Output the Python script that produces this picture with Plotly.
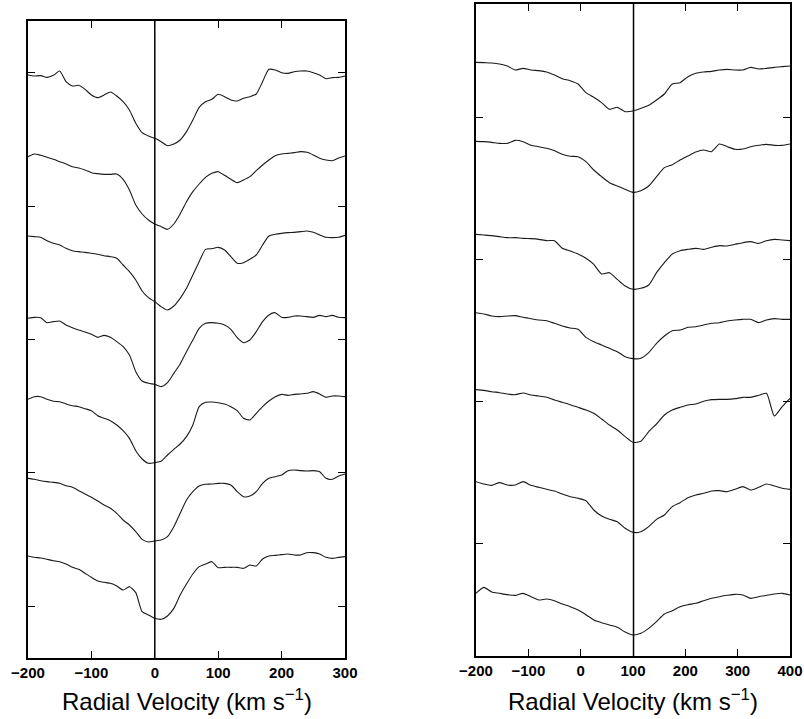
import numpy as np
import plotly.graph_objects as go

# ---------------- data ----------------
vel_left = list(range(-200, 301, 10))
vel_right = list(range(-200, 401, 15))

left_flux_1 = [1.000, 0.997, 0.998, 0.993, 0.999, 1.012, 0.980, 0.967, 0.969, 0.957,
               0.940, 0.932, 0.940, 0.949, 0.937, 0.920, 0.895, 0.855, 0.827, 0.817,
               0.810, 0.800, 0.788, 0.793, 0.805, 0.830, 0.865, 0.903, 0.920, 0.927,
               0.942, 0.935, 0.925, 0.922, 0.930, 0.935, 0.943, 0.980, 1.017, 1.015,
               1.007, 1.005, 1.010, 1.012, 1.012, 1.007, 1.000, 0.989, 0.992, 0.993,
               0.997]
left_flux_2 = [1.000, 1.008, 1.004, 0.998, 0.992, 0.985, 0.978, 0.970, 0.966, 0.960,
               0.952, 0.949, 0.947, 0.947, 0.948, 0.932, 0.900, 0.855, 0.828, 0.810,
               0.798, 0.790, 0.782, 0.798, 0.828, 0.865, 0.895, 0.918, 0.938, 0.950,
               0.955, 0.944, 0.932, 0.922, 0.930, 0.940, 0.958, 0.975, 0.990, 1.003,
               1.008, 1.010, 1.012, 1.015, 1.013, 1.005, 0.995, 0.990, 0.988, 0.996,
               1.002]
left_flux_3 = [1.000, 0.998, 0.996, 0.986, 0.978, 0.973, 0.963, 0.956, 0.953, 0.951,
               0.948, 0.945, 0.941, 0.938, 0.933, 0.913, 0.893, 0.868, 0.835, 0.815,
               0.803, 0.788, 0.778, 0.790, 0.813, 0.843, 0.883, 0.923, 0.960, 0.962,
               0.966, 0.958, 0.938, 0.918, 0.920, 0.930, 0.943, 0.973, 1.000, 1.005,
               1.008, 1.010, 1.011, 1.013, 1.015, 1.011, 1.003, 0.996, 0.995, 0.996,
               1.002]
left_flux_4 = [1.000, 1.003, 1.002, 0.987, 0.990, 0.992, 0.980, 0.972, 0.965, 0.959,
               0.952, 0.943, 0.949, 0.943, 0.930, 0.915, 0.890, 0.840, 0.812, 0.805,
               0.802, 0.795, 0.807, 0.835, 0.863, 0.900, 0.935, 0.970, 0.985, 0.987,
               0.985, 0.980, 0.967, 0.942, 0.927, 0.935, 0.960, 0.990, 1.010, 1.017,
               1.003, 1.003, 1.007, 1.007, 1.005, 1.003, 1.009, 1.005, 1.009, 1.003,
               1.002]
left_flux_5 = [1.000, 1.008, 1.008, 1.000, 0.994, 0.993, 0.986, 0.981, 0.978, 0.972,
               0.966, 0.951, 0.943, 0.936, 0.923, 0.906, 0.883, 0.846, 0.821, 0.808,
               0.810, 0.814, 0.833, 0.850, 0.866, 0.888, 0.923, 0.978, 0.991, 0.992,
               0.990, 0.986, 0.978, 0.966, 0.943, 0.938, 0.958, 0.978, 0.995, 1.008,
               1.015, 1.012, 1.015, 1.016, 1.018, 1.023, 1.016, 1.006, 1.010, 1.010,
               1.008]
left_flux_6 = [1.000, 0.997, 0.993, 0.990, 0.988, 0.985, 0.978, 0.973, 0.963, 0.953,
               0.943, 0.932, 0.920, 0.910, 0.895, 0.875, 0.860, 0.840, 0.817, 0.809,
               0.812, 0.815, 0.825, 0.855, 0.895, 0.935, 0.960, 0.977, 0.982, 0.983,
               0.985, 0.985, 0.980, 0.960, 0.945, 0.947, 0.960, 0.985, 1.000, 1.005,
               1.010, 1.023, 1.025, 1.023, 1.022, 1.023, 1.020, 1.000, 0.997, 1.007,
               1.013]
left_flux_7 = [1.000, 0.996, 0.994, 0.990, 0.986, 0.983, 0.976, 0.966, 0.960, 0.948,
               0.936, 0.925, 0.921, 0.918, 0.910, 0.898, 0.908, 0.890, 0.833, 0.823,
               0.813, 0.810, 0.820, 0.843, 0.883, 0.916, 0.946, 0.968, 0.976, 0.983,
               0.965, 0.966, 0.966, 0.966, 0.963, 0.973, 0.970, 0.991, 1.000, 1.002,
               1.004, 1.006, 1.003, 1.003, 1.010, 1.010, 1.006, 0.996, 0.993, 0.996,
               0.998]
left_offsets = [0.593, 0.348, 0.110, -0.137, -0.380, -0.617, -0.850]

right_flux_1 = [1.000, 0.999, 0.998, 0.995, 0.989, 0.977, 0.982, 0.977, 0.975, 0.971,
                0.962, 0.951, 0.945, 0.935, 0.909, 0.895, 0.879, 0.859, 0.865, 0.852,
                0.854, 0.862, 0.871, 0.887, 0.905, 0.935, 0.939, 0.957, 0.967, 0.971,
                0.973, 0.977, 0.979, 0.977, 0.977, 0.985, 0.980, 0.982, 0.985, 0.987,
                0.989]
right_flux_2 = [1.000, 0.999, 0.997, 0.994, 0.994, 1.003, 0.999, 0.988, 0.984, 0.979,
                0.972, 0.961, 0.955, 0.954, 0.939, 0.914, 0.894, 0.876, 0.866, 0.856,
                0.847, 0.852, 0.866, 0.894, 0.921, 0.930, 0.944, 0.956, 0.968, 0.974,
                0.969, 0.992, 0.984, 0.976, 0.977, 0.984, 0.988, 0.991, 0.988, 0.988,
                0.992]
right_flux_3 = [1.000, 0.998, 0.996, 0.993, 0.990, 0.990, 0.988, 0.987, 0.985, 0.981,
                0.981, 0.958, 0.950, 0.941, 0.928, 0.910, 0.881, 0.885, 0.865, 0.845,
                0.835, 0.838, 0.848, 0.885, 0.915, 0.941, 0.951, 0.955, 0.958, 0.955,
                0.961, 0.966, 0.965, 0.970, 0.975, 0.978, 0.973, 0.981, 0.985, 0.983,
                0.981]
right_flux_4 = [1.000, 0.996, 0.990, 0.988, 0.990, 0.991, 0.986, 0.982, 0.978, 0.976,
                0.968, 0.960, 0.954, 0.950, 0.926, 0.913, 0.903, 0.893, 0.883, 0.868,
                0.862, 0.863, 0.880, 0.908, 0.930, 0.946, 0.948, 0.956, 0.958, 0.963,
                0.968, 0.970, 0.975, 0.978, 0.980, 0.980, 0.970, 0.978, 0.982, 0.980,
                0.980]
right_flux_5 = [1.000, 0.998, 0.994, 0.991, 0.987, 0.985, 0.990, 0.984, 0.981, 0.977,
                0.969, 0.962, 0.955, 0.947, 0.939, 0.929, 0.912, 0.894, 0.879, 0.859,
                0.842, 0.845, 0.874, 0.897, 0.924, 0.939, 0.947, 0.954, 0.957, 0.965,
                0.970, 0.971, 0.971, 0.973, 0.977, 0.977, 0.983, 0.989, 0.921, 0.949,
                0.974]
right_flux_6 = [1.000, 0.993, 0.989, 0.997, 0.990, 0.990, 1.000, 0.989, 0.983, 0.977,
                0.972, 0.963, 0.955, 0.950, 0.943, 0.915, 0.897, 0.887, 0.880, 0.860,
                0.848, 0.850, 0.865, 0.887, 0.900, 0.925, 0.937, 0.952, 0.960, 0.965,
                0.972, 0.973, 0.970, 0.977, 0.985, 0.975, 0.983, 0.993, 0.987, 0.980,
                0.977]
right_flux_7 = [1.000, 1.018, 1.004, 1.000, 0.996, 0.994, 1.000, 0.990, 0.980, 0.983,
                0.978, 0.968, 0.960, 0.950, 0.936, 0.920, 0.912, 0.905, 0.898, 0.884,
                0.875, 0.880, 0.895, 0.915, 0.938, 0.948, 0.960, 0.966, 0.970, 0.978,
                0.985, 0.990, 0.994, 0.997, 0.995, 0.985, 0.990, 0.994, 0.998, 1.000,
                0.995]
right_offsets = [0.442, 0.205, -0.074, -0.309, -0.540, -0.816, -1.151]

ref_velocity_left = 0
ref_velocity_right = 101

x_ticks_left = [-200, -100, 0, 100, 200, 300]
x_ticks_right = [-200, -100, 0, 100, 200, 300, 400]

# ---------------- figure ----------------
W, H = 804, 719
FONT = "Liberation Sans, Arial, Helvetica, sans-serif"
LINE = "#1a1a1a"

fig = go.Figure()

left_fluxes = [left_flux_1, left_flux_2, left_flux_3, left_flux_4,
               left_flux_5, left_flux_6, left_flux_7]
right_fluxes = [right_flux_1, right_flux_2, right_flux_3, right_flux_4,
                right_flux_5, right_flux_6, right_flux_7]

for f, off in zip(left_fluxes, left_offsets):
    fig.add_trace(go.Scatter(x=vel_left, y=np.array(f) + off, mode="lines",
                             line=dict(color=LINE, width=1.1, shape="spline", smoothing=0.6),
                             xaxis="x", yaxis="y", showlegend=False,
                             hoverinfo="skip"))
for f, off in zip(right_fluxes, right_offsets):
    fig.add_trace(go.Scatter(x=vel_right, y=np.array(f) + off, mode="lines",
                             line=dict(color=LINE, width=1.1, shape="spline", smoothing=0.6),
                             xaxis="x2", yaxis="y2", showlegend=False,
                             hoverinfo="skip"))

fig.add_shape(type="line", xref="x", yref="y domain", x0=ref_velocity_left,
              x1=ref_velocity_left, y0=0, y1=1, line=dict(color="black", width=1.5))
fig.add_shape(type="line", xref="x2", yref="y2 domain", x0=ref_velocity_right,
              x1=ref_velocity_right, y0=0, y1=1, line=dict(color="black", width=1.5))

axis_common = dict(showline=True, linecolor="black", linewidth=1.5, mirror="ticks",
                   ticks="inside", ticklen=7, tickwidth=1.2, tickcolor="black",
                   showgrid=False, zeroline=False, automargin=False)
tickfont = dict(family=FONT, size=15, color="black")


def bold_labels(vals):
    return ["<b>" + f"{v:d}".replace("-", "\u2212") + "</b>" for v in vals]


fig.update_layout(
    width=W, height=H, autosize=False,
    margin=dict(l=0, r=0, t=0, b=0, pad=0, autoexpand=False),
    paper_bgcolor="white", plot_bgcolor="white",
    font=dict(family=FONT, color="black"),
    xaxis=dict(domain=[28 / W, 345 / W], range=[-200, 300], anchor="y",
               tickvals=x_ticks_left, ticktext=bold_labels(x_ticks_left),
               tickfont=tickfont, **axis_common),
    yaxis=dict(domain=[1 - 658 / H, 1 - 21 / H], range=[-0.156, 1.755], anchor="x",
               tick0=0, dtick=0.4, showticklabels=False, **axis_common),
    xaxis2=dict(domain=[476 / W, 790 / W], range=[-200, 400], anchor="y2",
                tickvals=x_ticks_right, ticktext=bold_labels(x_ticks_right),
                tickfont=tickfont, **axis_common),
    yaxis2=dict(domain=[1 - 656 / H, 1 - 4 / H], range=[-0.339, 1.617], anchor="x2",
                tick0=0, dtick=0.426, showticklabels=False, **axis_common),
)

title_text = "Radial Velocity (km s<sup>\u22121</sup>)"
for xc in [(28 + 345) / 2 / W, (476 + 790) / 2 / W]:
    fig.add_annotation(x=xc, y=1 - 700 / H, xref="paper", yref="paper",
                       text=title_text, showarrow=False, xanchor="center",
                       yanchor="middle", font=dict(family=FONT, size=24, color="black"))

fig.write_html("out.html", config={"displayModeBar": False},
               post_script="document.body.style.margin='0px';")
